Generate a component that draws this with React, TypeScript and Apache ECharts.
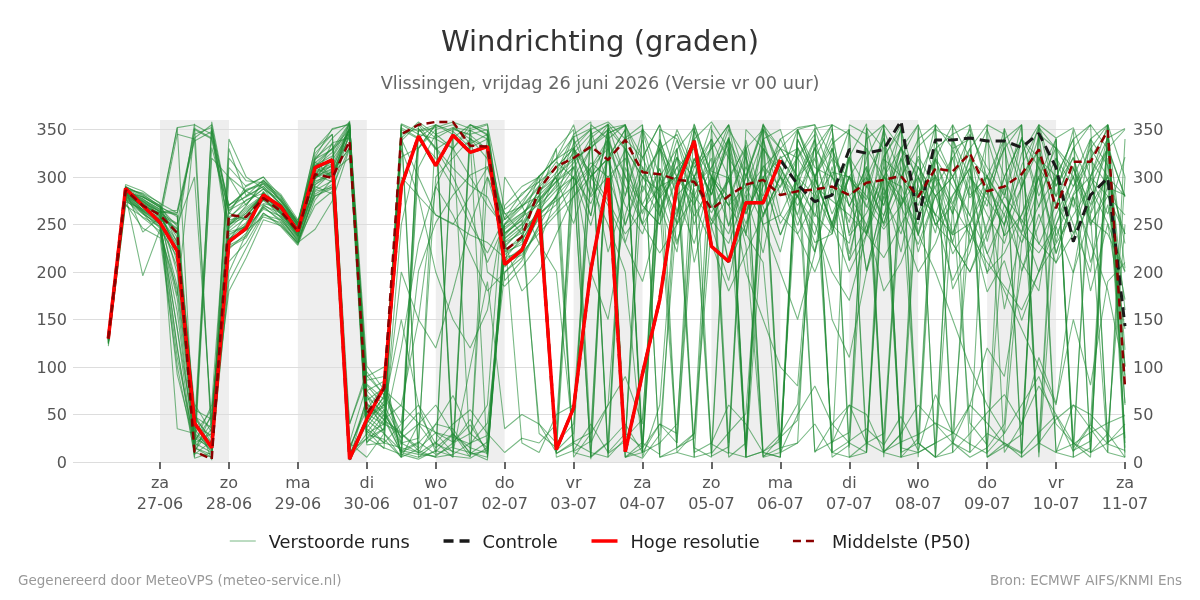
import React, { useEffect, useRef } from 'react';
import * as echarts from 'echarts';

const titleText = 'Windrichting (graden)';
const subtitleText = 'Vlissingen, vrijdag 26 juni 2026 (Versie vr 00 uur)';
const footerLeft = 'Gegenereerd door MeteoVPS (meteo-service.nl)';
const footerRight = 'Bron: ECMWF AIFS/KNMI Ens';

const startTime = Date.UTC(2026, 5, 26, 6, 0);
const stepHours = 6;
const axisMin = Date.UTC(2026, 5, 25, 17, 42);
const axisMax = Date.UTC(2026, 6, 11, 0, 0);
const dayNames = ['zo', 'ma', 'di', 'wo', 'do', 'vr', 'za'];
const tickDays = [
  '2026-06-27', '2026-06-28', '2026-06-29', '2026-06-30', '2026-07-01', '2026-07-02', '2026-07-03', '2026-07-04',
  '2026-07-05', '2026-07-06', '2026-07-07', '2026-07-08', '2026-07-09', '2026-07-10', '2026-07-11',
];
const shadedDays = ['2026-06-27', '2026-06-29', '2026-07-01', '2026-07-03', '2026-07-05', '2026-07-07', '2026-07-09'];
const yTicks = { min: 0, max: 360, interval: 50 };

const hres = [130, 288, 270, 252, 222, 41, 15, 232, 246, 281, 269, 243, 310, 318, 3, 45, 79, 290, 343, 312,
  344, 326, 332, 208, 223, 266, 13, 57, 202, 299, 11, 93, 171, 290, 338, 227, 211, 273, 273, 318];

const controle = [130, 288, 270, 252, 222, 41, 15, 232, 246, 281, 269, 243, 310, 318, 3, 45, 79, 290, 343, 312,
  344, 326, 332, 208, 223, 266, 13, 57, 202, 299, 11, 93, 171, 290, 338, 227, 211, 273, 273, 318,
  292, 274, 281, 329, 325, 329, 359, 255, 339, 339, 341, 338, 338, 331, 346, 310, 232, 281, 299, 143];

const p50 = [130, 286, 270, 260, 241, 11, 3, 260, 258, 278, 264, 243, 303, 299, 338, 51, 77, 345, 355, 358,
  358, 333, 332, 222, 237, 287, 311, 320, 332, 318, 339, 305, 303, 297, 295, 266, 280, 292, 297, 281,
  285, 287, 290, 281, 294, 297, 301, 279, 309, 306, 325, 285, 290, 303, 329, 267, 316, 316, 349, 79];

const members: number[][] = [
  [128, 285, 272, 258, 232, 42, 18, 246, 262, 282, 266, 240, 306, 314, 8, 46, 68, 352, 341, 355, 348, 331, 340, 232, 247, 276, 301, 318, 331, 346, 354, 321, 278, 301, 339, 268, 296, 251, 312, 289, 331, 284, 246, 301, 268, 322, 349, 291, 241, 329, 278, 302, 238, 312, 351, 279, 321, 262, 344, 118],
  [130, 282, 268, 262, 251, 351, 341, 262, 255, 276, 271, 246, 298, 321, 349, 31, 55, 12, 21, 8, 16, 355, 344, 214, 236, 291, 316, 299, 6, 21, 339, 349, 281, 229, 302, 248, 191, 276, 330, 306, 249, 298, 351, 238, 262, 301, 11, 352, 6, 269, 41, 18, 251, 289, 342, 238, 282, 318, 291, 62],
  [125, 288, 275, 265, 198, 28, 12, 229, 250, 285, 262, 238, 311, 326, 356, 61, 44, 31, 52, 19, 11, 6, 349, 191, 212, 249, 281, 309, 341, 356, 11, 4, 29, 261, 319, 282, 341, 238, 356, 309, 278, 331, 242, 318, 201, 279, 332, 238, 299, 182, 221, 292, 248, 342, 268, 341, 12, 22, 348, 204],
  [132, 276, 261, 250, 158, 15, 41, 271, 279, 290, 272, 250, 296, 301, 21, 81, 59, 338, 356, 341, 351, 344, 329, 241, 254, 301, 319, 342, 351, 9, 22, 298, 329, 261, 349, 306, 299, 228, 6, 15, 331, 298, 249, 321, 242, 301, 269, 322, 288, 231, 309, 198, 271, 242, 319, 301, 231, 339, 21, 31],
  [128, 290, 281, 270, 241, 61, 31, 224, 241, 271, 258, 232, 285, 289, 331, 29, 24, 5, 14, 31, 26, 19, 41, 199, 221, 259, 279, 11, 22, 351, 329, 261, 309, 232, 288, 19, 9, 331, 258, 301, 259, 221, 289, 212, 249, 311, 269, 229, 281, 219, 251, 179, 212, 149, 201, 248, 199, 261, 302, 101],
  [122, 272, 246, 236, 101, 10, 5, 251, 266, 280, 270, 244, 300, 336, 341, 91, 71, 41, 201, 252, 281, 302, 311, 261, 269, 291, 9, 21, 31, 346, 355, 309, 268, 311, 259, 291, 342, 5, 11, 22, 349, 301, 341, 269, 311, 248, 291, 239, 302, 261, 319, 281, 351, 9, 31, 49, 11, 39, 19, 12],
  [130, 286, 242, 258, 246, 21, 351, 248, 270, 294, 275, 248, 316, 300, 9, 41, 64, 321, 331, 355, 5, 341, 319, 226, 246, 281, 299, 251, 309, 221, 281, 339, 261, 329, 352, 6, 16, 339, 271, 322, 291, 339, 281, 321, 356, 11, 29, 301, 259, 321, 231, 279, 331, 251, 299, 231, 309, 271, 332, 279],
  [134, 280, 270, 262, 222, 46, 25, 238, 252, 279, 265, 238, 288, 305, 331, 51, 39, 349, 5, 11, 29, 15, 9, 231, 241, 261, 279, 329, 281, 339, 301, 251, 339, 289, 356, 301, 249, 311, 269, 221, 301, 11, 21, 31, 351, 281, 319, 262, 309, 241, 291, 219, 261, 301, 229, 271, 241, 299, 261, 321],
  [127, 292, 285, 272, 262, 341, 355, 261, 291, 300, 280, 252, 321, 351, 355, 101, 76, 59, 41, 31, 21, 39, 11, 251, 271, 301, 319, 331, 279, 301, 249, 311, 269, 221, 351, 289, 331, 5, 11, 29, 61, 281, 319, 241, 299, 251, 311, 221, 281, 239, 301, 269, 341, 289, 355, 11, 19, 31, 41, 49],
  [126, 278, 262, 240, 181, 25, 15, 211, 231, 262, 250, 230, 282, 292, 355, 21, 35, 345, 351, 329, 341, 355, 349, 205, 226, 271, 301, 321, 259, 351, 5, 21, 281, 339, 271, 309, 355, 261, 309, 251, 281, 239, 311, 219, 291, 259, 331, 281, 319, 261, 355, 5, 16, 29, 321, 269, 331, 289, 251, 201],
  [131, 284, 276, 266, 236, 10, 51, 255, 258, 272, 268, 242, 308, 318, 345, 71, 49, 26, 351, 331, 309, 291, 279, 241, 258, 271, 289, 311, 259, 351, 355, 284, 336, 264, 316, 254, 296, 334, 5, 26, 44, 299, 251, 321, 289, 341, 271, 319, 249, 281, 309, 241, 289, 201, 261, 209, 279, 231, 181, 91],
  [129, 281, 196, 245, 216, 35, 10, 240, 248, 284, 260, 236, 302, 295, 16, 55, 81, 10, 349, 355, 345, 9, 21, 221, 229, 256, 271, 301, 249, 319, 231, 291, 259, 321, 281, 9, 31, 51, 299, 239, 281, 319, 261, 301, 239, 289, 221, 311, 259, 191, 231, 289, 161, 241, 301, 219, 281, 301, 341, 351],
  [133, 274, 266, 255, 121, 5, 331, 265, 275, 287, 276, 254, 318, 341, 358, 36, 61, 355, 9, 21, 5, 349, 355, 266, 281, 301, 9, 19, 349, 291, 329, 271, 309, 251, 319, 281, 339, 261, 301, 239, 289, 221, 331, 269, 311, 11, 21, 29, 41, 31, 19, 9, 351, 301, 329, 271, 311, 249, 289, 281],
  [128, 288, 273, 260, 352, 355, 345, 270, 285, 275, 262, 240, 290, 282, 5, 25, 50, 300, 280, 260, 251, 239, 231, 215, 221, 241, 261, 279, 301, 319, 341, 355, 5, 15, 25, 301, 279, 321, 261, 291, 321, 351, 355, 5, 10, 319, 301, 279, 261, 239, 251, 301, 271, 231, 291, 331, 309, 259, 10, 5],
  [124, 270, 258, 248, 92, 20, 30, 235, 245, 268, 255, 234, 280, 288, 40, 95, 70, 30, 15, 350, 355, 335, 345, 210, 218, 245, 265, 290, 310, 340, 5, 15, 340, 281, 300, 262, 300, 241, 340, 350, 290, 261, 240, 321, 201, 280, 240, 311, 280, 300, 259, 340, 281, 355, 5, 250, 301, 210, 271, 171],
  [130, 285, 279, 268, 260, 50, 20, 300, 270, 296, 278, 250, 325, 345, 20, 5, 30, 5, 40, 60, 30, 10, 5, 245, 260, 285, 305, 325, 345, 355, 300, 270, 250, 330, 210, 290, 210, 250, 290, 330, 350, 355, 10, 22, 35, 18, 48, 12, 71, 30, 60, 41, 18, 9, 355, 291, 320, 251, 280, 260],
  [126, 287, 283, 273, 35, 30, 55, 228, 238, 262, 248, 228, 276, 298, 345, 40, 20, 15, 10, 5, 350, 345, 350, 235, 250, 275, 295, 315, 335, 350, 5, 10, 290, 321, 250, 301, 210, 281, 220, 311, 260, 331, 300, 252, 340, 355, 5, 10, 20, 340, 281, 300, 238, 260, 311, 220, 279, 180, 251, 140],
  [131, 283, 269, 256, 245, 15, 8, 252, 268, 281, 271, 246, 312, 330, 350, 75, 85, 20, 25, 300, 320, 340, 330, 255, 275, 295, 310, 330, 350, 5, 25, 45, 300, 258, 320, 281, 340, 301, 355, 300, 280, 231, 240, 301, 280, 251, 320, 279, 355, 10, 30, 52, 71, 40, 110, 62, 150, 81, 190, 210],
  [129, 279, 264, 252, 140, 8, 22, 258, 272, 288, 263, 243, 301, 309, 351, 25, 15, 8, 3, 12, 6, 4, 15, 228, 244, 262, 12, 30, 355, 340, 280, 351, 301, 20, 270, 335, 248, 300, 352, 18, 300, 258, 330, 212, 308, 270, 352, 241, 318, 272, 330, 232, 300, 340, 280, 320, 268, 340, 312, 230],
  [127, 283, 274, 263, 265, 345, 352, 242, 248, 266, 259, 237, 294, 307, 330, 48, 33, 341, 358, 345, 352, 349, 340, 218, 232, 268, 292, 335, 350, 358, 340, 320, 355, 300, 340, 358, 330, 265, 298, 340, 352, 355, 320, 298, 276, 350, 300, 332, 350, 340, 300, 276, 250, 325, 355, 341, 352, 300, 355, 25],
  [131, 287, 271, 259, 225, 55, 45, 233, 260, 277, 264, 241, 309, 316, 6, 30, 40, 30, 12, 5, 8, 20, 28, 236, 251, 280, 5, 12, 40, 10, 355, 20, 8, 300, 15, 5, 330, 12, 340, 280, 320, 345, 5, 18, 352, 330, 5, 25, 355, 330, 340, 5, 20, 10, 352, 330, 15, 40, 355, 20],
  [128, 286, 265, 252, 205, 38, 28, 243, 257, 283, 267, 245, 304, 311, 2, 68, 52, 18, 310, 345, 330, 300, 270, 247, 262, 277, 296, 343, 3, 356, 330, 300, 285, 350, 310, 330, 355, 300, 280, 340, 300, 330, 355, 15, 300, 270, 330, 300, 340, 300, 345, 310, 280, 340, 320, 290, 330, 355, 20, 40],
  [126, 281, 263, 246, 172, 12, 35, 264, 287, 293, 271, 249, 319, 329, 346, 82, 66, 350, 340, 320, 290, 250, 220, 257, 283, 295, 330, 350, 20, 60, 90, 40, 330, 345, 300, 355, 20, 350, 330, 10, 50, 80, 40, 20, 10, 355, 330, 310, 280, 300, 330, 355, 10, 40, 80, 50, 20, 5, 350, 60],
  [133, 277, 257, 243, 110, 22, 48, 249, 264, 279, 257, 235, 292, 303, 351, 18, 20, 40, 60, 10, 352, 340, 5, 222, 238, 266, 286, 300, 272, 320, 350, 10, 40, 30, 355, 300, 270, 240, 210, 5, 340, 300, 250, 230, 320, 355, 10, 20, 330, 300, 250, 200, 220, 260, 300, 340, 20, 10, 355, 300],
  [129, 289, 282, 269, 258, 8, 358, 267, 280, 297, 274, 252, 330, 350, 356, 86, 90, 5, 330, 350, 15, 10, 2, 238, 258, 285, 300, 10, 5, 340, 20, 355, 5, 10, 30, 350, 320, 290, 5, 10, 20, 40, 10, 355, 345, 5, 320, 355, 5, 20, 10, 355, 345, 5, 20, 340, 5, 15, 320, 5],
  [130, 284, 279, 268, 248, 52, 2, 256, 276, 283, 269, 243, 298, 313, 14, 60, 48, 10, 20, 40, 35, 8, 12, 250, 268, 289, 310, 330, 305, 275, 240, 265, 290, 300, 280, 255, 230, 285, 310, 330, 320, 290, 275, 260, 240, 215, 250, 285, 300, 270, 240, 210, 185, 160, 200, 230, 260, 290, 330, 350],
  [127, 286, 277, 263, 262, 338, 348, 232, 244, 258, 252, 229, 286, 296, 359, 33, 14, 356, 348, 352, 358, 351, 356, 212, 225, 260, 305, 345, 358, 10, 30, 15, 350, 340, 290, 310, 340, 20, 355, 330, 300, 320, 355, 345, 330, 300, 290, 20, 5, 355, 320, 300, 340, 355, 10, 320, 290, 330, 355, 10],
  [125, 280, 266, 258, 228, 4, 10, 226, 236, 269, 253, 231, 292, 306, 342, 44, 30, 12, 8, 6, 20, 45, 8, 224, 234, 262, 275, 290, 315, 300, 320, 250, 280, 310, 330, 300, 270, 290, 340, 260, 240, 275, 305, 300, 270, 245, 270, 300, 250, 230, 200, 240, 280, 255, 230, 210, 240, 270, 300, 240],
  [128, 284, 270, 262, 352, 20, 10, 330, 280, 290, 270, 248, 312, 322, 355, 58, 40, 200, 150, 120, 180, 250, 300, 262, 240, 40, 20, 340, 300, 270, 230, 190, 260, 320, 300, 250, 280, 10, 350, 330, 300, 280, 150, 110, 200, 260, 300, 340, 355, 20, 60, 120, 90, 200, 250, 300, 340, 10, 30, 250],
  [131, 286, 274, 264, 240, 356, 20, 340, 300, 288, 272, 250, 330, 345, 10, 25, 35, 120, 230, 290, 260, 220, 180, 200, 215, 250, 20, 40, 300, 340, 355, 5, 60, 300, 270, 230, 180, 220, 260, 300, 240, 200, 250, 300, 330, 20, 280, 240, 200, 150, 100, 60, 30, 230, 270, 300, 250, 200, 330, 160],
  [126, 283, 268, 255, 345, 340, 30, 250, 262, 280, 266, 246, 305, 312, 352, 48, 58, 150, 60, 30, 10, 100, 190, 35, 50, 40, 10, 290, 330, 350, 250, 300, 330, 280, 230, 300, 350, 320, 250, 200, 150, 220, 300, 350, 20, 10, 5, 300, 250, 270, 320, 10, 30, 60, 90, 40, 20, 300, 280, 240],
  [129, 281, 275, 260, 250, 300, 40, 180, 215, 255, 249, 231, 245, 275, 330, 20, 45, 60, 150, 290, 330, 350, 200, 185, 205, 230, 280, 300, 5, 20, 40, 10, 300, 250, 310, 340, 5, 20, 300, 320, 330, 10, 40, 60, 20, 300, 350, 5, 320, 290, 260, 220, 180, 140, 100, 60, 200, 300, 330, 90],
  [132, 288, 279, 270, 230, 25, 320, 300, 285, 296, 282, 255, 280, 290, 5, 40, 70, 330, 280, 200, 150, 120, 160, 270, 290, 300, 320, 355, 290, 250, 200, 10, 20, 40, 300, 330, 355, 5, 260, 300, 350, 310, 300, 270, 240, 350, 15, 10, 20, 30, 250, 290, 330, 355, 20, 45, 60, 35, 10, 340],
  [127, 279, 262, 248, 120, 15, 5, 200, 240, 270, 262, 238, 300, 305, 320, 70, 30, 250, 330, 355, 20, 30, 60, 300, 270, 230, 200, 20, 10, 5, 330, 300, 270, 15, 30, 250, 300, 330, 10, 5, 350, 300, 250, 200, 240, 300, 330, 355, 300, 230, 200, 250, 300, 340, 310, 280, 350, 10, 20, 300],
  [130, 287, 272, 264, 260, 20, 60, 310, 290, 300, 275, 252, 320, 335, 40, 90, 100, 5, 355, 330, 300, 260, 210, 250, 262, 275, 295, 310, 200, 150, 260, 320, 355, 10, 5, 300, 270, 330, 350, 310, 280, 250, 200, 170, 240, 320, 355, 20, 5, 10, 300, 260, 230, 290, 330, 10, 5, 330, 300, 280],
  [128, 285, 271, 259, 175, 350, 340, 250, 258, 282, 268, 246, 315, 330, 357, 62, 45, 10, 5, 20, 40, 55, 30, 10, 25, 20, 40, 300, 330, 355, 20, 350, 330, 300, 5, 10, 340, 290, 250, 260, 300, 340, 10, 5, 20, 30, 300, 270, 320, 355, 10, 30, 20, 5, 345, 330, 300, 255, 240, 200],
  [133, 290, 280, 268, 210, 48, 36, 320, 296, 294, 280, 252, 300, 318, 12, 65, 78, 340, 300, 260, 250, 280, 310, 255, 270, 280, 330, 5, 30, 60, 310, 270, 250, 300, 340, 270, 240, 300, 350, 15, 20, 350, 300, 280, 300, 340, 250, 200, 230, 280, 310, 350, 300, 250, 200, 260, 300, 340, 355, 15],
  [125, 277, 264, 250, 140, 30, 15, 190, 225, 260, 255, 233, 270, 285, 348, 75, 55, 20, 10, 40, 70, 30, 15, 230, 180, 200, 240, 280, 310, 330, 290, 250, 220, 250, 280, 320, 10, 5, 330, 300, 270, 300, 330, 280, 250, 180, 210, 260, 290, 320, 350, 300, 270, 240, 220, 250, 290, 320, 350, 100],
  [131, 284, 277, 266, 240, 35, 350, 270, 286, 292, 277, 249, 310, 300, 350, 35, 20, 355, 345, 340, 330, 355, 345, 240, 255, 30, 15, 330, 300, 320, 350, 15, 40, 20, 300, 340, 300, 200, 150, 100, 80, 300, 335, 350, 10, 300, 280, 250, 330, 345, 355, 290, 260, 210, 180, 300, 340, 355, 330, 280],
  [129, 282, 265, 254, 185, 40, 20, 235, 250, 276, 263, 240, 300, 308, 350, 50, 60, 25, 40, 15, 30, 5, 300, 240, 20, 10, 50, 60, 300, 320, 270, 240, 300, 330, 10, 20, 60, 40, 10, 5, 340, 300, 20, 60, 50, 10, 30, 60, 40, 20, 5, 15, 40, 300, 20, 10, 60, 50, 30, 5],
];

const FONT = 'DejaVu Sans';
const DAY = 86400000;
const GREEN = '#1f8a33';

function pad(n: number) {
  return n < 10 ? '0' + n : '' + n;
}

export default function App() {
  const ref = useRef<HTMLDivElement>(null);

  useEffect(() => {
    if (!ref.current) return;
    const chart = echarts.init(ref.current, undefined, { renderer: 'svg' });
    const times = controle.map((_, i) => startTime + i * stepHours * 3600000);
    const ticks = tickDays.map((d) => Date.parse(d + 'T00:00:00Z'));
    const toData = (vals: number[]) => vals.map((v, i) => [times[i], v]);

    const memberSeries = members.map((vals) => ({
      type: 'line',
      name: 'Verstoorde runs',
      data: toData(vals),
      symbol: 'none',
      silent: true,
      z: 2,
      itemStyle: { color: GREEN },
      lineStyle: { color: GREEN, width: 1.1, opacity: 0.6 },
    }));

    const hiddenSymbol = { opacity: 0, borderWidth: 0 };

    const option: any = {
      animation: false,
      textStyle: { fontFamily: FONT },
      title: [
        { text: titleText, left: 'center', top: 21, textStyle: { fontFamily: FONT, fontSize: 29, fontWeight: 'normal', color: '#333' } },
        { text: subtitleText, left: 'center', top: 69, textStyle: { fontFamily: FONT, fontSize: 17.7, fontWeight: 'normal', color: '#666' } },
      ],
      legend: {
        left: 'center',
        top: 527,
        itemWidth: 26,
        itemHeight: 14,
        itemGap: 32,
        textStyle: { fontFamily: FONT, fontSize: 17.8, color: '#222', padding: [0, 0, 0, 8] },
        data: [
          { name: 'Verstoorde runs', itemStyle: hiddenSymbol, lineStyle: { width: 1, opacity: 0.6 } },
          { name: 'Controle', itemStyle: hiddenSymbol, lineStyle: { width: 3.5 } },
          { name: 'Hoge resolutie', itemStyle: hiddenSymbol, lineStyle: { width: 3.5 } },
          { name: 'Middelste (P50)', itemStyle: hiddenSymbol, lineStyle: { width: 2.5 } },
        ],
      },
      grid: { left: 73, right: 75, top: 120, bottom: 138, containLabel: false },
      xAxis: {
        type: 'value',
        min: axisMin,
        max: axisMax,
        axisLine: { show: false },
        axisTick: { show: true, length: 7, lineStyle: { color: '#666', width: 2 }, customValues: ticks },
        axisLabel: {
          customValues: ticks,
          fontFamily: FONT,
          fontSize: 16,
          color: '#555',
          lineHeight: 21,
          margin: 10,
          formatter: (v: number) => {
            const d = new Date(v);
            return dayNames[d.getUTCDay()] + '\n' + pad(d.getUTCDate()) + '-' + pad(d.getUTCMonth() + 1);
          },
        },
        splitLine: { show: false },
      },
      yAxis: [
        {
          type: 'value',
          min: yTicks.min,
          max: yTicks.max,
          interval: yTicks.interval,
          position: 'left',
          axisLine: { show: false },
          axisTick: { show: false },
          axisLabel: { fontFamily: FONT, fontSize: 16, color: '#555', margin: 6, showMaxLabel: false },
          splitLine: { show: true, showMaxLine: false, lineStyle: { color: '#dddddd', width: 1 } },
        },
        {
          type: 'value',
          min: yTicks.min,
          max: yTicks.max,
          interval: yTicks.interval,
          position: 'right',
          axisLine: { show: false },
          axisTick: { show: false },
          axisLabel: { fontFamily: FONT, fontSize: 16, color: '#555', margin: 8, showMaxLabel: false },
          splitLine: { show: false },
        },
      ],
      series: [
        {
          type: 'line',
          name: 'bands',
          data: [],
          silent: true,
          z: -1,
          markArea: {
            silent: true,
            z: -1,
            itemStyle: { color: '#eeeeee' },
            data: shadedDays.map((d) => {
              const t = Date.parse(d + 'T00:00:00Z');
              return [{ xAxis: t }, { xAxis: t + DAY }];
            }),
          },
        },
        ...memberSeries,
        {
          type: 'line',
          name: 'Controle',
          data: toData(controle),
          symbol: 'none',
          z: 3,
          itemStyle: { color: '#1a1a1a' },
          lineStyle: { color: '#1a1a1a', width: 3, type: [10, 6] },
        },
        {
          type: 'line',
          name: 'Hoge resolutie',
          data: toData(hres),
          symbol: 'none',
          z: 4,
          itemStyle: { color: '#ff0000' },
          lineStyle: { color: '#ff0000', width: 3.5 },
        },
        {
          type: 'line',
          name: 'Middelste (P50)',
          data: toData(p50),
          symbol: 'none',
          z: 5,
          itemStyle: { color: '#8b0000' },
          lineStyle: { color: '#8b0000', width: 2.5, type: [8, 5] },
        },
      ],
      graphic: [
        { type: 'text', left: 18, top: 573, style: { text: footerLeft, fontFamily: FONT, fontSize: 13.5, fill: '#999' } },
        { type: 'text', right: 18, top: 573, style: { text: footerRight, fontFamily: FONT, fontSize: 13.5, fill: '#999' } },
      ],
    };

    chart.setOption(option);
    return () => chart.dispose();
  }, []);

  return <div ref={ref} style={{ position: 'fixed', left: 0, top: 0, width: 1200, height: 600 }} />;
}
